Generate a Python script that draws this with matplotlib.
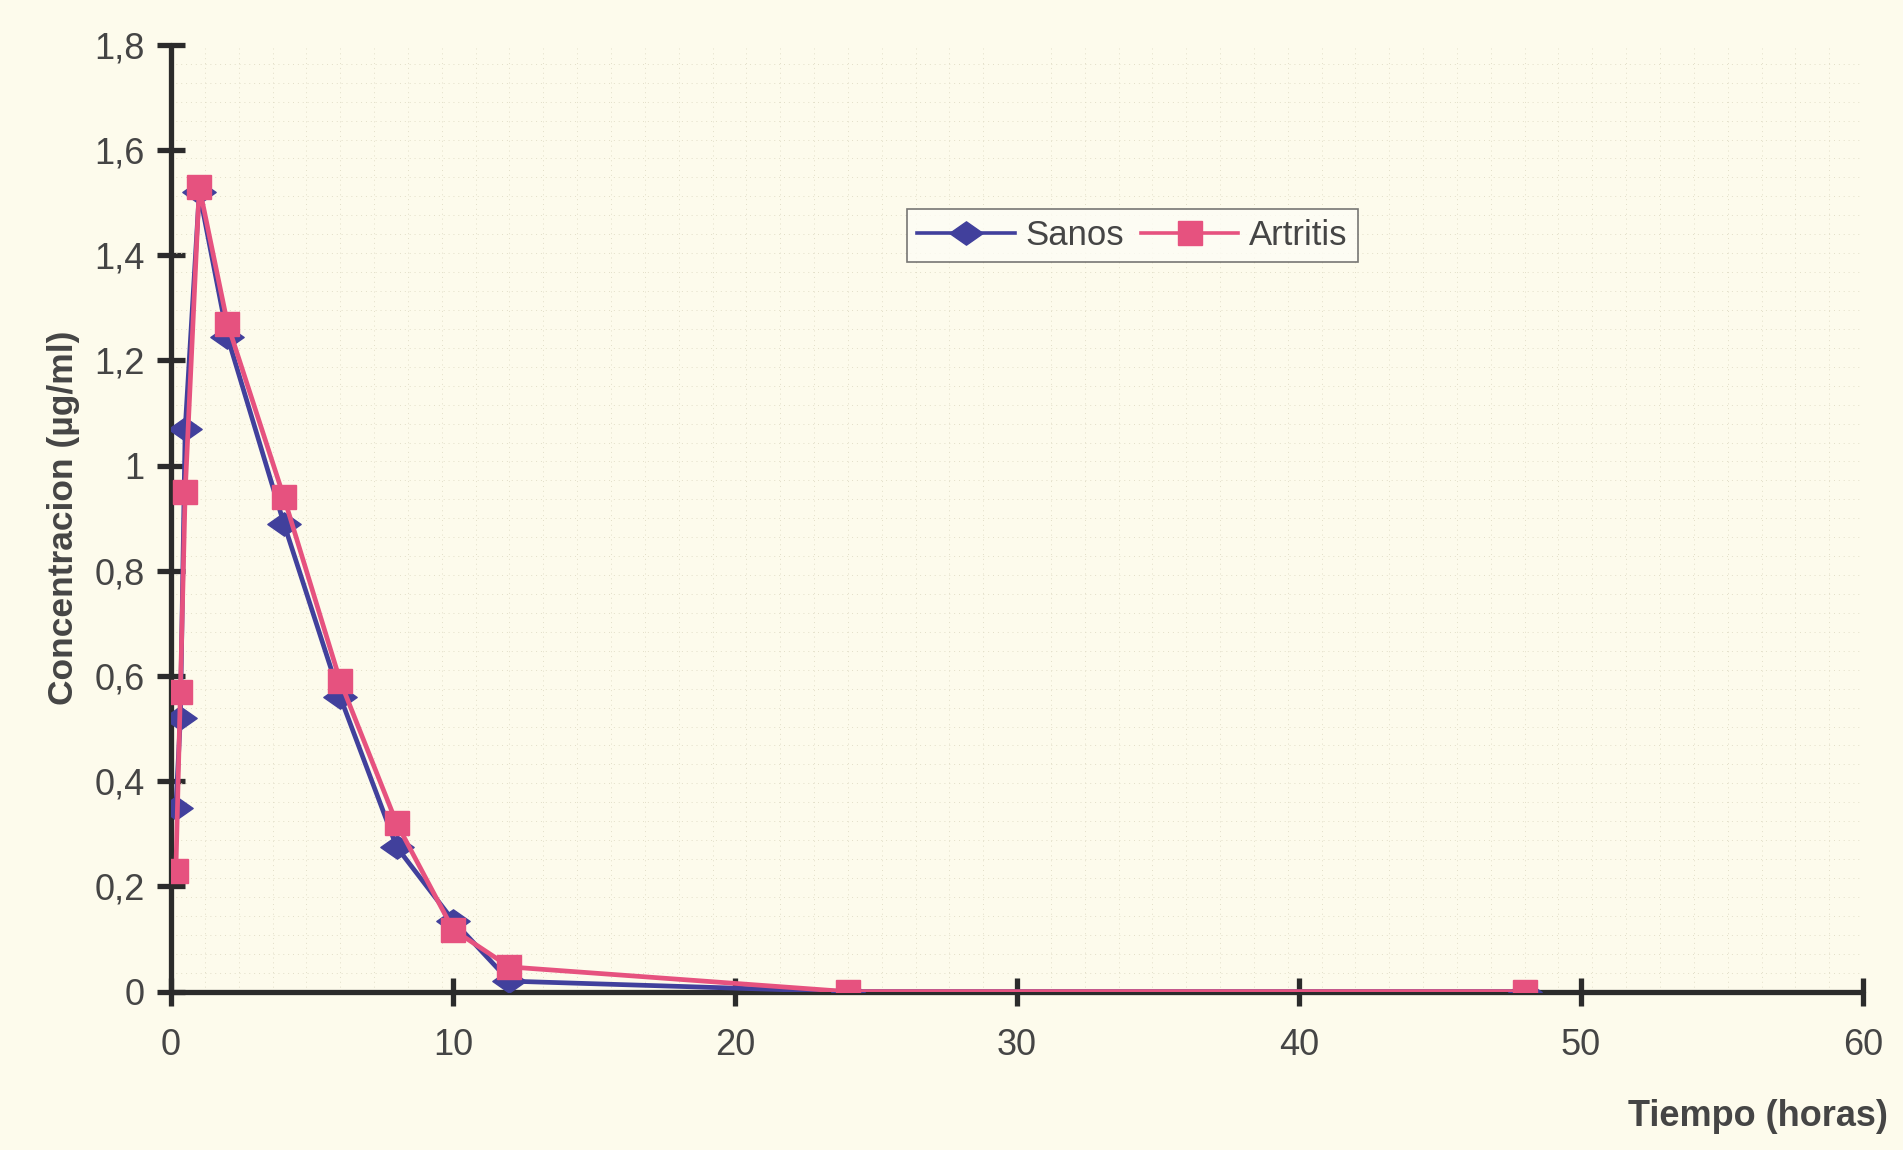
import numpy as np
import matplotlib
matplotlib.use('Agg')
import matplotlib.pyplot as plt
from matplotlib.path import Path

plt.rcParams['font.family'] = ['Liberation Sans', 'DejaVu Sans']

# sampling times (h) and plasma levels (ug/ml)
tiempo = [0.17, 0.33, 0.5, 1, 2, 4, 6, 8, 10, 12, 24, 48]
sanos = [0.35, 0.52, 1.07, 1.52, 1.245, 0.89, 0.56, 0.275, 0.135, 0.02, 0.0, 0.0]
artritis = [0.23, 0.57, 0.95, 1.53, 1.27, 0.94, 0.59, 0.32, 0.118, 0.047, 0.0, 0.0]

xticks = [0, 10, 20, 30, 40, 50, 60]
yticks = [0, 0.2, 0.4, 0.6, 0.8, 1.0, 1.2, 1.4, 1.6, 1.8]
ylabels = ['0', '0,2', '0,4', '0,6', '0,8', '1', '1,2', '1,4', '1,6', '1,8']

bg = '#fdfbec'
azul = '#41409c'
rosa = '#e6527f'
eje = '#2b2b2b'
texto = '#454545'

# flattened diamond like the old spreadsheet marker
rombo = Path([(-1, 0), (0, 0.7), (1, 0), (0, -0.7), (-1, 0)],
             [Path.MOVETO, Path.LINETO, Path.LINETO, Path.LINETO, Path.CLOSEPOLY])

fig = plt.figure(figsize=(19.03, 11.5), dpi=100, facecolor=bg)
ax = fig.add_axes([0.0899, 0.1377, 0.8891, 0.8233], facecolor=bg)

ax.plot(tiempo, sanos, color=azul, lw=3.4, marker=rombo, ms=24,
        mec=azul, mfc=azul, label='Sanos', zorder=3)
ax.plot(tiempo, artritis, color=rosa, lw=3.4, marker='s', ms=17,
        mec=rosa, mfc=rosa, label='Artritis', zorder=4)

ax.set_xlim(0, 60)
ax.set_ylim(0, 1.8)
ax.set_xticks(xticks)
ax.set_yticks(yticks)
ax.set_yticklabels(ylabels)

for s in ['top', 'right']:
    ax.spines[s].set_visible(False)
for s in ['left', 'bottom']:
    ax.spines[s].set_linewidth(3.8)
    ax.spines[s].set_color(eje)
    ax.spines[s].set_capstyle('round')

ax.tick_params(direction='inout', length=20, width=3.8, color=eje,
               labelsize=26, labelcolor=texto)
ax.tick_params(axis='y', pad=9)
ax.tick_params(axis='x', pad=16)

# faint dotted background grid
ax.set_xticks(np.arange(0, 60.1, 1.2), minor=True)
ax.set_yticks(np.arange(0, 1.81, 0.036), minor=True)
ax.tick_params(which='minor', length=0)
ax.grid(which='minor', color='#e2dec8', lw=0.7, ls=(0, (1, 4)), zorder=0)

ax.set_ylabel('Concentracion (µg/ml)', fontsize=25.5, fontweight='bold',
              color=texto, labelpad=10)
fig.text(0.992, 0.029, 'Tiempo (horas)', fontsize=26, fontweight='bold',
         color=texto, ha='right', va='center')

leg = ax.legend(loc='upper left', bbox_to_anchor=(0.435, 0.827), ncol=2,
                borderaxespad=0, fontsize=25, frameon=True, fancybox=False,
                handlelength=2.8, handletextpad=0.3, columnspacing=0.5,
                borderpad=0.3, labelcolor=texto)
leg.get_frame().set_edgecolor('#555555')
leg.get_frame().set_facecolor('#fefdf5')
leg.get_frame().set_linewidth(1.2)
for h in leg.legend_handles:
    h.set_linewidth(2.6)

fig.savefig('out.png', dpi=100, facecolor=bg)
